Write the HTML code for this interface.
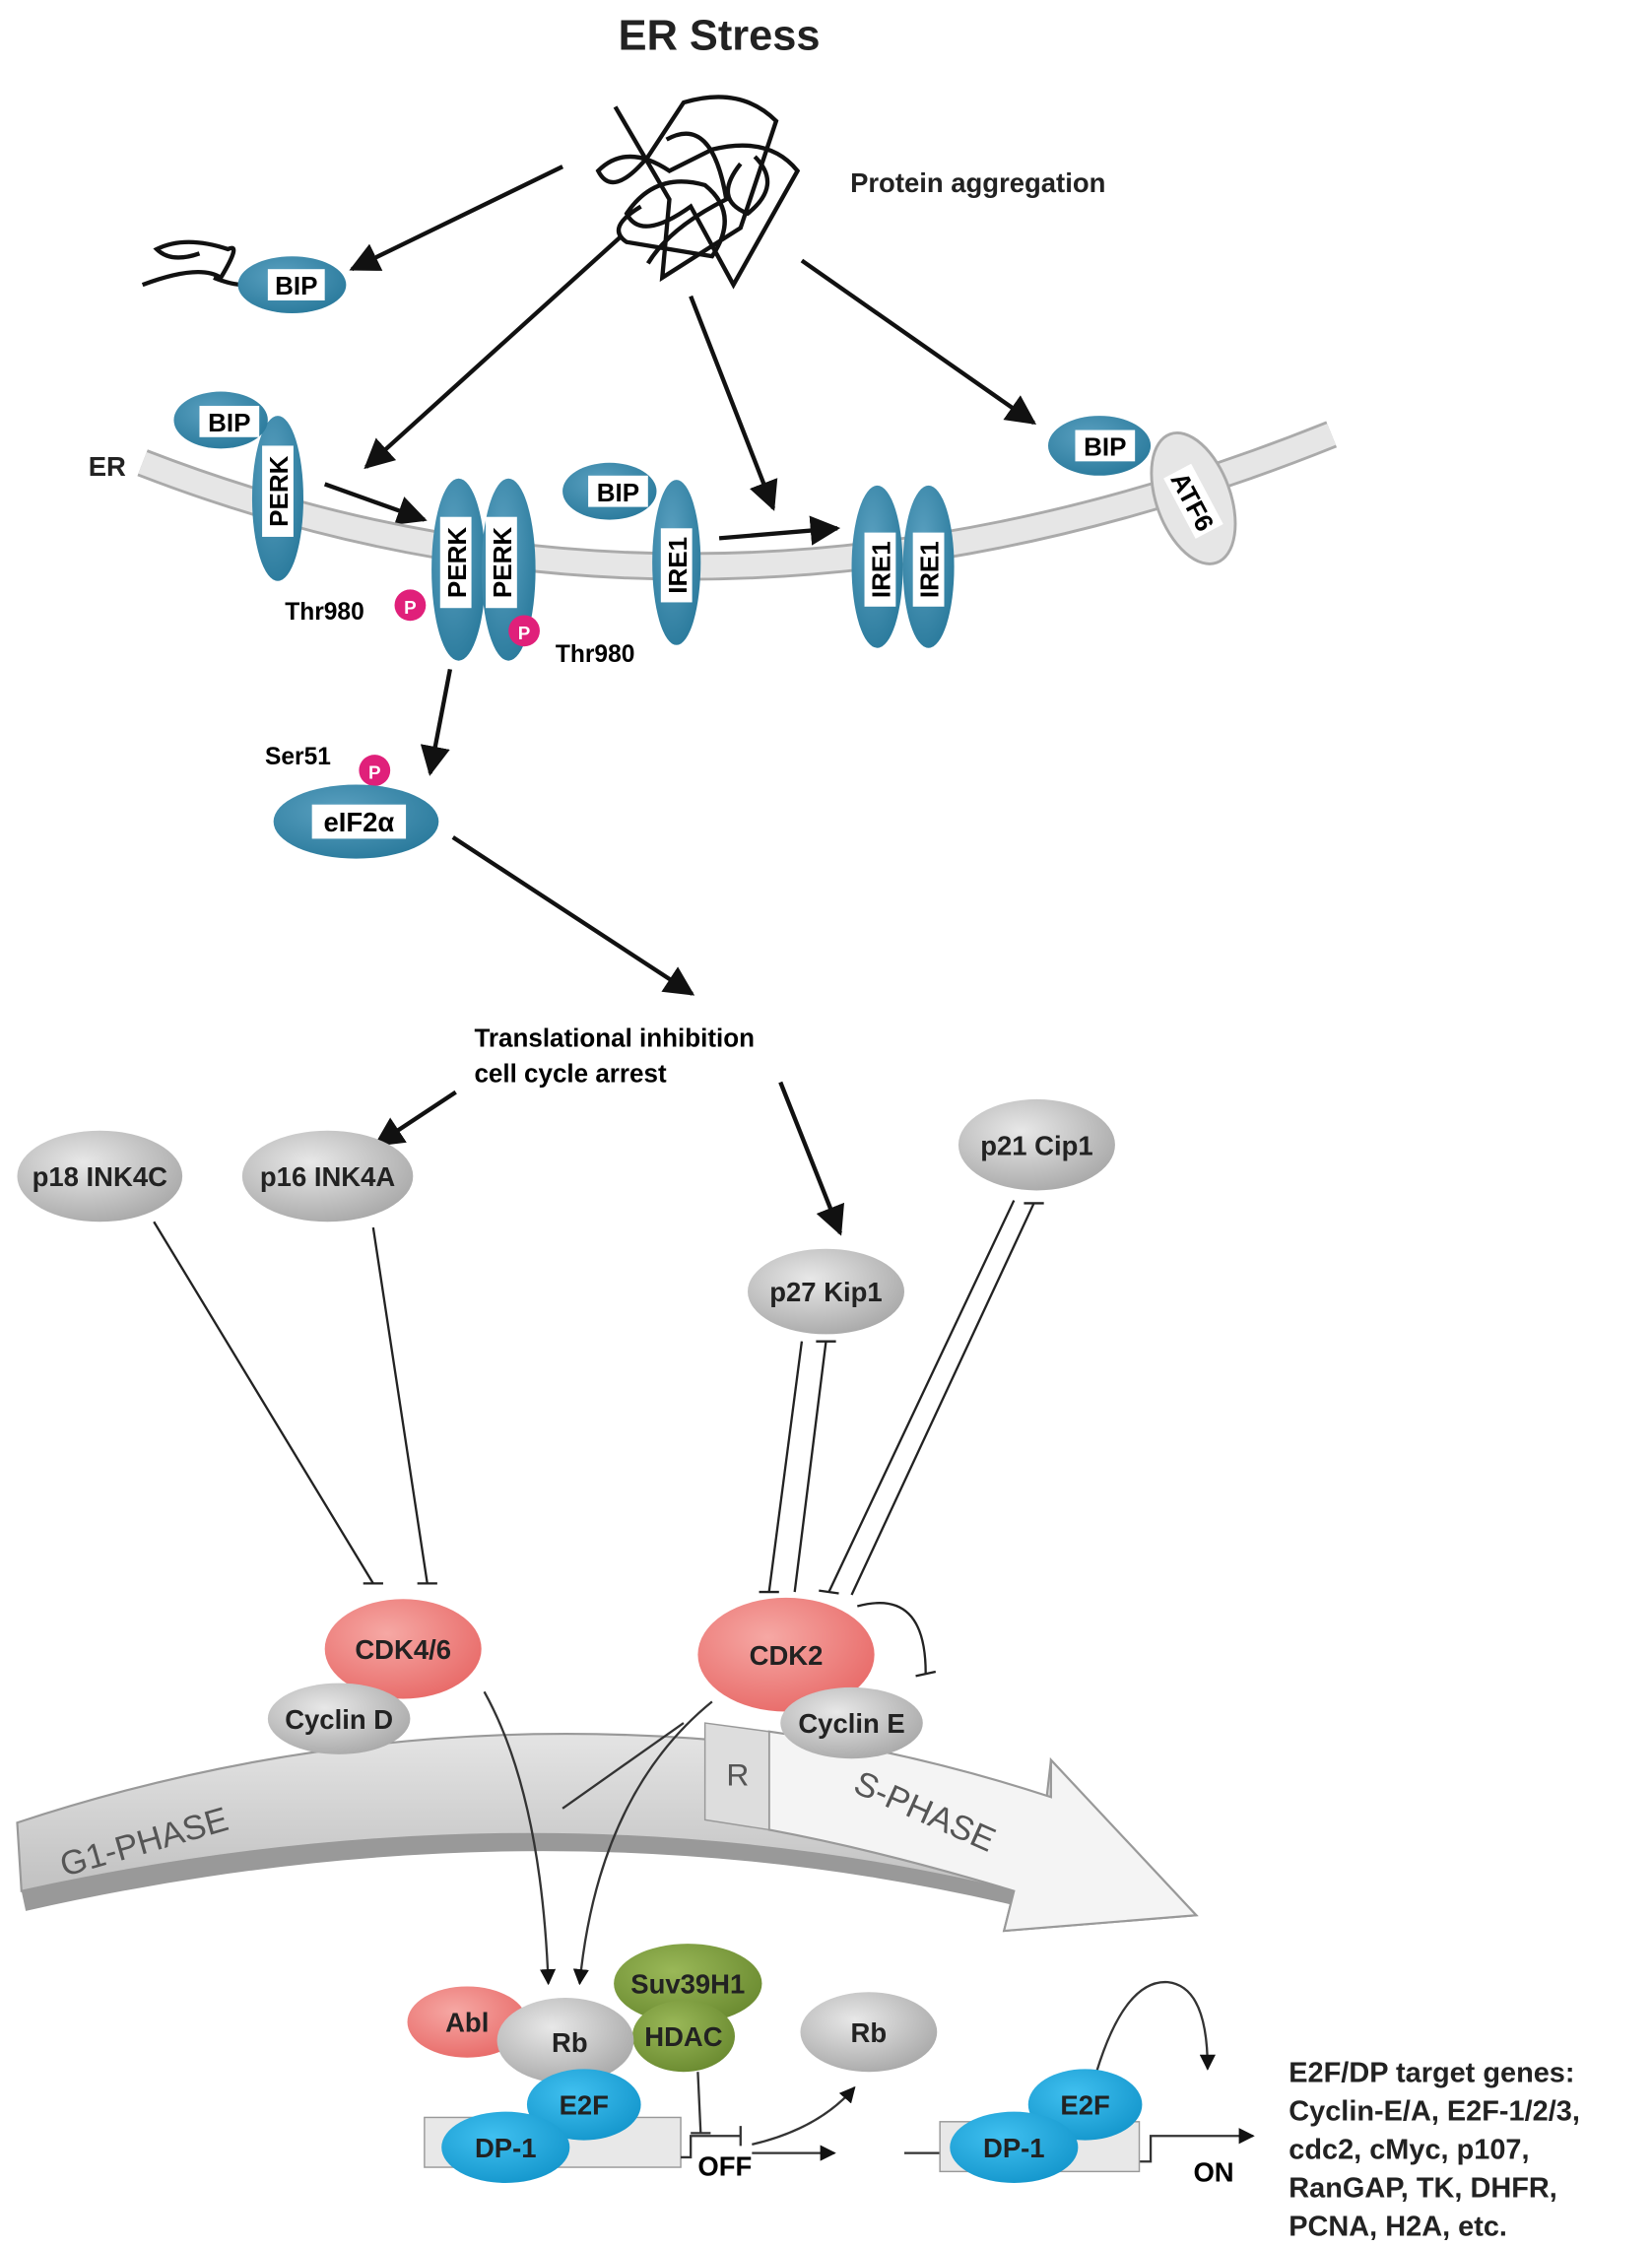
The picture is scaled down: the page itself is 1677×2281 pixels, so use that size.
<!DOCTYPE html>
<html><head><meta charset="utf-8"><style>html,body{margin:0;padding:0;background:#fff}svg{display:block}text{font-family:"Liberation Sans",sans-serif;font-weight:bold}</style></head>
<body>
<svg width="1677" height="2281" viewBox="0 0 1160 1578" xmlns="http://www.w3.org/2000/svg">
<defs>
<marker id="a" viewBox="0 0 10 10" refX="9" refY="5" markerWidth="7" markerHeight="7" orient="auto"><path d="M0,0 L10,5 L0,10 z" fill="#111"/></marker>
<radialGradient id="bl" cx="0.4" cy="0.35" r="0.7"><stop offset="0" stop-color="#5aa0c0"/><stop offset="1" stop-color="#2a7a9c"/></radialGradient>
<radialGradient id="gr" cx="0.4" cy="0.35" r="0.7"><stop offset="0" stop-color="#e8e8e8"/><stop offset="1" stop-color="#a8a8a8"/></radialGradient>
<radialGradient id="pk" cx="0.4" cy="0.35" r="0.7"><stop offset="0" stop-color="#f6a8a4"/><stop offset="1" stop-color="#e86a68"/></radialGradient>
<radialGradient id="gn" cx="0.4" cy="0.35" r="0.7"><stop offset="0" stop-color="#9ab858"/><stop offset="1" stop-color="#6a8a30"/></radialGradient>
<radialGradient id="cy" cx="0.4" cy="0.35" r="0.7"><stop offset="0" stop-color="#40c0f0"/><stop offset="1" stop-color="#1496cc"/></radialGradient>
<linearGradient id="band" x1="0" y1="0" x2="0" y2="1"><stop offset="0" stop-color="#e4e4e4"/><stop offset="1" stop-color="#b8b8b8"/></linearGradient>
</defs>

<text x="505" y="35" font-size="30" text-anchor="middle" fill="#222">ER Stress</text>
<g fill="none" stroke="#111" stroke-width="3">
<path d="M432,75 L470,140 L465,195 L520,160 L545,85 Q520,60 480,72 L455,110 Q430,140 420,120 Q440,100 470,120 L500,105 Q540,95 560,120 L515,200 L485,145 Q450,170 440,150 Q460,120 495,130 Q520,150 500,180 L440,170 Q425,160 450,145"/>
<path d="M468,98 Q500,80 510,140 Q470,160 455,185 M530,110 Q550,130 525,150 Q500,140 520,115"/>
<path d="M100,200 Q140,185 155,195 Q170,170 160,175 Q130,165 110,175 Q120,185 140,178 M150,195 Q175,205 185,195"/>
</g>
<text x="597" y="135" font-size="19" fill="#222">Protein aggregation</text>

<g stroke="#111" stroke-width="3" marker-end="url(#a)" fill="none">
<line x1="395" y1="117" x2="247" y2="189"/>
<line x1="435" y1="167" x2="257" y2="328"/>
<line x1="485" y1="208" x2="543" y2="357"/>
<line x1="563" y1="183" x2="726" y2="297"/>
<line x1="228" y1="340" x2="298" y2="365"/>
<line x1="505" y1="378" x2="588" y2="371"/>
<line x1="316" y1="470" x2="302" y2="543"/>
<line x1="318" y1="588" x2="486" y2="698"/>
<line x1="320" y1="767" x2="264" y2="804"/>
<line x1="548" y1="760" x2="590" y2="866"/>
</g>

<ellipse cx="205" cy="200" rx="38" ry="20" fill="url(#bl)"/>
<rect x="188" y="189" width="40" height="22" fill="#fff"/><text x="208" y="207" font-size="18" text-anchor="middle">BIP</text>

<path d="M100,325 Q500,480 935,305" fill="none" stroke="#aaa" stroke-width="20"/>
<path d="M100,325 Q500,480 935,305" fill="none" stroke="#e6e6e6" stroke-width="16"/>
<text x="62" y="334" font-size="19" fill="#222">ER</text>

<ellipse cx="195" cy="350" rx="18" ry="58" fill="url(#bl)"/>
<ellipse cx="155" cy="295" rx="33" ry="20" fill="url(#bl)"/>
<rect x="140" y="285" width="42" height="22" fill="#fff"/><text x="161" y="303" font-size="18" text-anchor="middle">BIP</text>
<g transform="translate(195,345) rotate(-90)"><rect x="-32" y="-11" width="64" height="22" fill="#fff"/><text x="0" y="7" font-size="18" text-anchor="middle">PERK</text></g>

<ellipse cx="322" cy="400" rx="19" ry="64" fill="url(#bl)"/>
<ellipse cx="357" cy="400" rx="19" ry="64" fill="url(#bl)"/>
<g transform="translate(320,395) rotate(-90)"><rect x="-32" y="-11" width="64" height="22" fill="#fff"/><text x="0" y="7" font-size="18" text-anchor="middle">PERK</text></g>
<g transform="translate(352,395) rotate(-90)"><rect x="-32" y="-11" width="64" height="22" fill="#fff"/><text x="0" y="7" font-size="18" text-anchor="middle">PERK</text></g>
<circle cx="288" cy="425" r="11" fill="#e0207a"/><text x="288" y="431" font-size="13" fill="#fff" text-anchor="middle">P</text>
<circle cx="368" cy="443" r="11" fill="#e0207a"/><text x="368" y="449" font-size="13" fill="#fff" text-anchor="middle">P</text>
<text x="200" y="435" font-size="17">Thr980</text>
<text x="390" y="465" font-size="17">Thr980</text>

<ellipse cx="475" cy="395" rx="17" ry="58" fill="url(#bl)"/>
<ellipse cx="428" cy="345" rx="33" ry="20" fill="url(#bl)"/>
<rect x="413" y="334" width="42" height="22" fill="#fff"/><text x="434" y="352" font-size="18" text-anchor="middle">BIP</text>
<g transform="translate(475,397) rotate(-90)"><rect x="-26" y="-11" width="52" height="22" fill="#fff"/><text x="0" y="7" font-size="18" text-anchor="middle">IRE1</text></g>

<ellipse cx="616" cy="398" rx="18" ry="57" fill="url(#bl)"/>
<ellipse cx="652" cy="398" rx="18" ry="57" fill="url(#bl)"/>
<g transform="translate(618,400) rotate(-90)"><rect x="-26" y="-11" width="52" height="22" fill="#fff"/><text x="0" y="7" font-size="18" text-anchor="middle">IRE1</text></g>
<g transform="translate(652,400) rotate(-90)"><rect x="-26" y="-11" width="52" height="22" fill="#fff"/><text x="0" y="7" font-size="18" text-anchor="middle">IRE1</text></g>

<ellipse cx="838" cy="350" rx="26" ry="48" transform="rotate(-20 838 350)" fill="#e6e6e6" stroke="#aaa" stroke-width="2"/>
<g transform="translate(838,352) rotate(62)"><rect x="-24" y="-11" width="48" height="22" fill="#fff"/><text x="0" y="7" font-size="18" text-anchor="middle">ATF6</text></g>
<ellipse cx="772" cy="313" rx="36" ry="21" fill="url(#bl)"/>
<rect x="755" y="302" width="42" height="22" fill="#fff"/><text x="776" y="320" font-size="18" text-anchor="middle">BIP</text>

<text x="186" y="537" font-size="17">Ser51</text>
<circle cx="263" cy="541" r="11" fill="#e0207a"/><text x="263" y="547" font-size="13" fill="#fff" text-anchor="middle">P</text>
<ellipse cx="250" cy="577" rx="58" ry="26" fill="url(#bl)"/>
<rect x="219" y="565" width="66" height="24" fill="#fff"/><text x="252" y="584" font-size="19" text-anchor="middle">eIF2α</text>

<text x="333" y="735" font-size="18">Translational inhibition</text>
<text x="333" y="760" font-size="18">cell cycle arrest</text>

<g font-size="19" text-anchor="middle" fill="#222">
<ellipse cx="70" cy="826" rx="58" ry="32" fill="url(#gr)"/><text x="70" y="833">p18 INK4C</text>
<ellipse cx="230" cy="826" rx="60" ry="32" fill="url(#gr)"/><text x="230" y="833">p16 INK4A</text>
<ellipse cx="728" cy="804" rx="55" ry="32" fill="url(#gr)"/><text x="728" y="811">p21 Cip1</text>
<ellipse cx="580" cy="907" rx="55" ry="30" fill="url(#gr)"/><text x="580" y="914">p27 Kip1</text>
</g>
<g stroke="#222" stroke-width="1.6" fill="none">
<line x1="108" y1="858" x2="262" y2="1112"/><line x1="255" y1="1112" x2="269" y2="1112"/>
<line x1="262" y1="862" x2="300" y2="1112"/><line x1="293" y1="1112" x2="307" y2="1112"/>
<line x1="563" y1="942" x2="540" y2="1118"/><line x1="533" y1="1118" x2="547" y2="1118"/>
<line x1="580" y1="942" x2="558" y2="1118"/><line x1="573" y1="942" x2="587" y2="942"/>
<line x1="712" y1="843" x2="582" y2="1118"/><line x1="575" y1="1117" x2="589" y2="1119"/>
<line x1="726" y1="845" x2="598" y2="1120"/><line x1="719" y1="845" x2="733" y2="845"/>
<path d="M602,1128 Q650,1115 650,1175"/><line x1="643" y1="1177" x2="657" y2="1174"/>
</g>

<!-- cell cycle band -->
<path d="M12,1280 Q360,1165 735,1262 L738,1236 L840,1345 L705,1356 L712,1328 Q380,1248 15,1328 Z" fill="url(#band)" stroke="#999" stroke-width="1.5"/>
<path d="M15,1328 Q380,1248 712,1328 L712,1338 Q380,1260 18,1342 Z" fill="#999"/>
<path d="M540,1216 Q640,1230 738,1262 L738,1236 L840,1345 L705,1356 L712,1328 Q620,1300 540,1285 Z" fill="#f4f4f4" stroke="#999" stroke-width="1.5"/>
<path d="M495,1210 L540,1216 L540,1285 L495,1278 Z" fill="#ddd" stroke="#999"/>
<text x="518" y="1254" font-size="22" fill="#555" text-anchor="middle" style="font-weight:normal">R</text>
<text transform="translate(45,1318) rotate(-16)" font-size="24" fill="#555" style="font-weight:normal">G1-PHASE</text>
<text transform="translate(598,1258) rotate(24)" font-size="24" fill="#555" style="font-weight:normal">S-PHASE</text>

<g font-size="19" text-anchor="middle" fill="#222">
<ellipse cx="283" cy="1158" rx="55" ry="35" fill="url(#pk)"/><text x="283" y="1165">CDK4/6</text>
<ellipse cx="238" cy="1207" rx="50" ry="25" fill="url(#gr)"/><text x="238" y="1214">Cyclin D</text>
<ellipse cx="552" cy="1162" rx="62" ry="40" fill="url(#pk)"/><text x="552" y="1169">CDK2</text>
<ellipse cx="598" cy="1210" rx="50" ry="25" fill="url(#gr)"/><text x="598" y="1217">Cyclin E</text>
</g>
<g stroke="#333" stroke-width="1.6" fill="none" marker-end="url(#a)">
<path d="M340,1188 Q380,1260 385,1393"/>
<path d="M500,1195 Q420,1260 407,1393"/>
</g>
<line x1="480" y1="1210" x2="395" y2="1270" stroke="#333" stroke-width="1.6"/>

<rect x="298" y="1487" width="180" height="35" fill="#e8e8e8" stroke="#999"/>
<g stroke="#333" stroke-width="1.6" fill="none">
<path d="M478,1515 L485,1515 L485,1500 L520,1500"/><line x1="520" y1="1493" x2="520" y2="1507"/>
<line x1="490" y1="1455" x2="492" y2="1498"/><line x1="485" y1="1498" x2="499" y2="1498"/>
<path d="M528,1506 Q575,1495 600,1466" marker-end="url(#a)"/>
<line x1="528" y1="1512" x2="586" y2="1512" marker-end="url(#a)"/>
<line x1="635" y1="1512" x2="660" y2="1512"/>
<path d="M800,1518 L808,1518 L808,1500 L880,1500" marker-end="url(#a)"/>
<path d="M770,1455 Q790,1390 820,1392 Q848,1395 848,1453" marker-end="url(#a)"/>
</g>
<rect x="660" y="1490" width="140" height="35" fill="#e8e8e8" stroke="#999"/>
<g font-size="19" text-anchor="middle" fill="#222">
<ellipse cx="483" cy="1393" rx="52" ry="28" fill="url(#gn)"/><text x="483" y="1400">Suv39H1</text>
<ellipse cx="480" cy="1430" rx="36" ry="25" fill="url(#gn)"/><text x="480" y="1437">HDAC</text>
<ellipse cx="328" cy="1420" rx="42" ry="25" fill="url(#pk)"/><text x="328" y="1427">Abl</text>
<ellipse cx="397" cy="1433" rx="48" ry="30" fill="url(#gr)"/><text x="400" y="1441">Rb</text>
<ellipse cx="410" cy="1478" rx="40" ry="25" fill="url(#cy)"/><text x="410" y="1485">E2F</text>
<ellipse cx="355" cy="1508" rx="45" ry="25" fill="url(#cy)"/><text x="355" y="1515">DP-1</text>
<ellipse cx="610" cy="1427" rx="48" ry="28" fill="url(#gr)"/><text x="610" y="1434">Rb</text>
<ellipse cx="762" cy="1478" rx="40" ry="25" fill="url(#cy)"/><text x="762" y="1485">E2F</text>
<ellipse cx="712" cy="1508" rx="45" ry="25" fill="url(#cy)"/><text x="712" y="1515">DP-1</text>
</g>
<text x="490" y="1528" font-size="19">OFF</text>
<text x="838" y="1532" font-size="19">ON</text>
<g font-size="20" fill="#222">
<text x="905" y="1462">E2F/DP target genes:</text>
<text x="905" y="1489">Cyclin-E/A, E2F-1/2/3,</text>
<text x="905" y="1516">cdc2, cMyc, p107,</text>
<text x="905" y="1543">RanGAP, TK, DHFR,</text>
<text x="905" y="1570">PCNA, H2A, etc.</text>
</g>
</svg>
</body></html>
